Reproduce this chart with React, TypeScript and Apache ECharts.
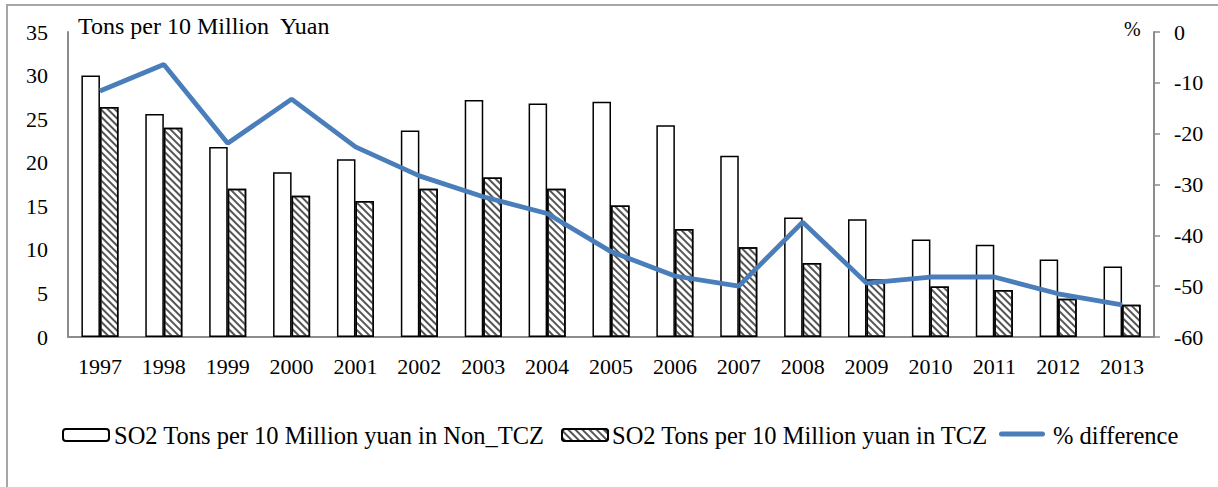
import React, { useEffect, useRef } from "react";
import * as echarts from "echarts";

const years = ["1997","1998","1999","2000","2001","2002","2003","2004","2005","2006","2007","2008","2009","2010","2011","2012","2013"];
const nonTcz = [30.0, 25.6, 21.8, 18.9, 20.4, 23.7, 27.2, 26.8, 27.0, 24.3, 20.8, 13.7, 13.5, 11.2, 10.6, 8.9, 8.1];
const tcz = [26.4, 24.0, 17.0, 16.2, 15.6, 17.0, 18.3, 17.0, 15.1, 12.4, 10.3, 8.5, 6.6, 5.8, 5.4, 4.4, 3.7];
const pctDiff = [-11.6, -6.4, -21.9, -13.2, -22.6, -28.3, -32.4, -35.7, -43.2, -48.0, -50.0, -37.4, -49.4, -48.2, -48.2, -51.5, -53.7];
const legendNames = [
  "SO2 Tons per 10 Million yuan in Non_TCZ",
  "SO2 Tons per 10 Million yuan in TCZ",
  "% difference",
];

const FONT = "Liberation Serif";

export default function App() {
  const ref = useRef<HTMLDivElement>(null);
  useEffect(() => {
    if (!ref.current) return;
    const chart = echarts.init(ref.current, undefined, { renderer: "svg" });
    const axisText = { fontFamily: FONT, fontSize: 22, color: "#000" };
    const lineIcon =
      "path://M0,0L0.01,0L0.01,0.01Z M46,12L45.99,12L45.99,11.99Z M2.5,3.5L43.5,3.5A2.5,2.5,0,0,1,43.5,8.5L2.5,8.5A2.5,2.5,0,0,1,2.5,3.5Z";
    const legendIconLeft = [62, 561, 999];
    const legendTextLeft = [114, 612, 1053];
    const mkLegend = (i: number, extra: any = {}) => ({
      left: legendIconLeft[i],
      top: 428,
      itemWidth: 46,
      itemHeight: 12,
      padding: 0,
      formatter: () => "",
      textStyle: { fontSize: 10 },
      data: [{ name: legendNames[i], ...extra }],
    });
    chart.setOption({
      animation: false,
      backgroundColor: "#fff",
      textStyle: { fontFamily: FONT },
      grid: { left: 68, right: 64, top: 32, bottom: 150, containLabel: false },
      graphic: [
        { type: "rect", shape: { x: 7, y: 5, width: 1400, height: 700 }, style: { fill: "none", stroke: "#a6a6a6", lineWidth: 2 }, silent: true },
        { type: "text", left: 78, top: 14, style: { text: "Tons per 10 Million  Yuan", font: `24px "${FONT}"`, fill: "#000" } },
        { type: "text", left: 1124, top: 19, style: { text: "%", font: `20px "${FONT}"`, fill: "#000" } },
        ...legendNames.map((n, i) => ({
          type: "text",
          x: legendTextLeft[i],
          y: 435,
          style: { text: n, font: `24.5px "${FONT}"`, fill: "#000", verticalAlign: "middle", align: "left" },
        })),
      ],
      legend: [
        mkLegend(0),
        mkLegend(1),
        mkLegend(2, { icon: lineIcon, itemStyle: { color: "#4a7ebb" } }),
      ],
      xAxis: {
        type: "category",
        data: years,
        axisLine: { lineStyle: { color: "#8c8c8c", width: 2 } },
        axisTick: { show: false },
        axisLabel: { ...axisText, margin: 18 },
      },
      yAxis: [
        {
          type: "value",
          min: 0,
          max: 35,
          interval: 5,
          axisLine: { show: true, lineStyle: { color: "#8c8c8c", width: 2 } },
          axisTick: { show: false },
          splitLine: { show: false },
          axisLabel: { ...axisText, margin: 20 },
        },
        {
          type: "value",
          min: -60,
          max: 0,
          interval: 10,
          position: "right",
          axisLine: { show: true, lineStyle: { color: "#8c8c8c", width: 2 } },
          axisTick: { show: true, length: 6, lineStyle: { color: "#8c8c8c", width: 1.5 } },
          splitLine: { show: false },
          axisLabel: { ...axisText, margin: 20 },
        },
      ],
      series: [
        {
          name: legendNames[0],
          type: "bar",
          data: nonTcz,
          barGap: "0%",
          barCategoryGap: "42%",
          itemStyle: { color: "#fff", borderColor: "#000", borderWidth: 1.5 },
        },
        {
          name: legendNames[1],
          type: "bar",
          data: tcz,
          barGap: "0%",
          barCategoryGap: "42%",
          itemStyle: {
            color: "#fff",
            borderColor: "#000",
            borderWidth: 1.5,
            decal: {
              symbol: "rect",
              symbolSize: 1,
              dashArrayX: [1, 0],
              dashArrayY: [1.5, 2.8],
              rotation: Math.PI / 4,
              color: "#555",
              backgroundColor: "#fff",
            },
          },
        },
        {
          name: legendNames[2],
          type: "line",
          yAxisIndex: 1,
          data: pctDiff,
          symbol: "none",
          showSymbol: false,
          z: 5,
          lineStyle: { color: "#4a7ebb", width: 4.8 },
          itemStyle: { color: "#4a7ebb" },
        },
      ],
    });
    return () => chart.dispose();
  }, []);
  return (
    <div
      ref={ref}
      style={{ position: "absolute", left: 0, top: 0, width: 1218, height: 487 }}
    />
  );
}
